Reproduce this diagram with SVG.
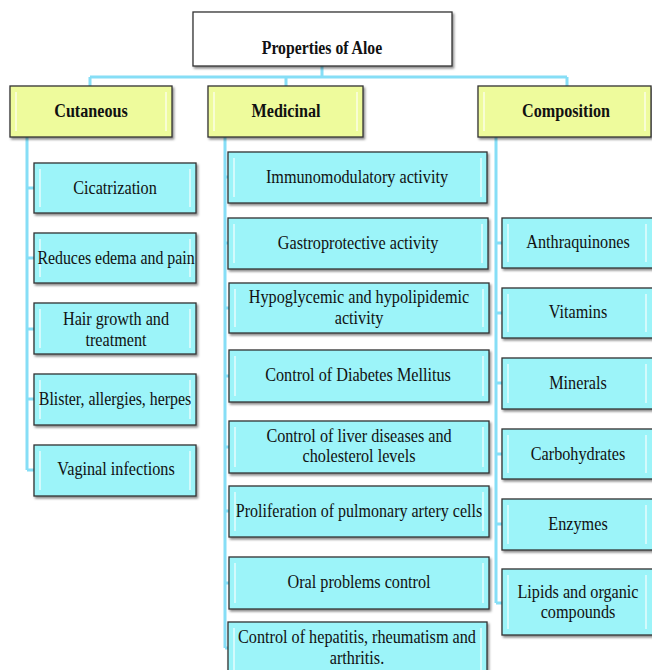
<svg xmlns="http://www.w3.org/2000/svg" width="652" height="670" viewBox="0 0 652 670">
<defs>
<filter id="sh" x="-5%" y="-10%" width="115%" height="130%">
<feDropShadow dx="1.5" dy="2" stdDeviation="1.2" flood-color="#000" flood-opacity="0.45"/>
</filter>
<style>
.root{fill:#fff;stroke:#333;stroke-width:1.3;filter:url(#sh)}
.cat{fill:#eefb9c;stroke:#333;stroke-width:1.3;filter:url(#sh)}
.box{fill:#9cf4f9;stroke:#333;stroke-width:1.3;filter:url(#sh)}
.hl{stroke:#fff;stroke-width:1.5;opacity:0.75;fill:none}
.conn{stroke:#86def6;stroke-width:3;fill:none}
.t{font-size:19px;fill:#111;text-anchor:middle}
.b{font-size:19px;font-weight:bold;fill:#111;text-anchor:middle}
</style>
</defs>
<rect width="652" height="670" fill="#fff"/>
<g id="connectors" class="conn">
<path d="M322,66 V77 M90,77 H567 M90,77 V86 M286,77 V86 M567,77 V86"/>
<path d="M27,137 V470 M27,188 H34 M27,258 H34 M27,329 H34 M27,399 H34 M27,470 H34"/>
<path d="M225,137 V648 M225,177 H228 M225,243 H228 M225,308 H229 M225,376 H229 M225,447 H229 M225,511 H229 M225,583 H229 M225,648 H228"/>
<path d="M496,137 V603 M496,243 H502 M496,313 H502 M496,383 H502 M496,454 H502 M496,524 H502 M496,603 H502"/>
</g>
<g font-family="'Liberation Serif', 'Times New Roman', serif">
<g id="root"><rect class="root" x="193" y="12" width="259" height="54"/><text class="b" transform="translate(322,54) scale(0.83,1)">Properties of Aloe</text></g>
<g id="cutaneous"><rect class="cat" x="10" y="86" width="162" height="51"/><path class="hl" d="M16,92 V131 M166,92 V131"/><text class="b" transform="translate(91,117) scale(0.85,1)">Cutaneous</text></g>
<g id="medicinal"><rect class="cat" x="208" y="86" width="155" height="51"/><path class="hl" d="M214,92 V131 M357,92 V131"/><text class="b" transform="translate(286,117) scale(0.85,1)">Medicinal</text></g>
<g id="composition"><rect class="cat" x="478" y="86" width="173" height="51"/><path class="hl" d="M484,92 V131 M645,92 V131"/><text class="b" transform="translate(566,117) scale(0.85,1)">Composition</text></g>

<g id="cicatrization"><rect class="box" x="34" y="163" width="162" height="50"/><path class="hl" d="M40,169 V207 M190,169 V207"/><text class="t" transform="translate(115,194) scale(0.853,1)">Cicatrization</text></g>
<g id="edema"><rect class="box" x="34" y="233" width="162" height="50"/><path class="hl" d="M40,239 V277 M190,239 V277"/><text class="t" transform="translate(116,264) scale(0.835,1)">Reduces edema and pain</text></g>
<g id="hair"><rect class="box" x="34" y="303" width="162" height="51"/><path class="hl" d="M40,309 V348 M190,309 V348"/><text class="t" transform="translate(116,325) scale(0.853,1)">Hair growth and</text><text class="t" transform="translate(116,346) scale(0.853,1)">treatment</text></g>
<g id="blister"><rect class="box" x="34" y="374" width="162" height="51"/><path class="hl" d="M40,380 V419 M190,380 V419"/><text class="t" transform="translate(115,405) scale(0.835,1)">Blister, allergies, herpes</text></g>
<g id="vaginal"><rect class="box" x="34" y="445" width="162" height="51"/><path class="hl" d="M40,451 V490 M190,451 V490"/><text class="t" transform="translate(116,475) scale(0.853,1)">Vaginal infections</text></g>

<g id="immuno"><rect class="box" x="228" y="152" width="259" height="51"/><path class="hl" d="M234,158 V197 M481,158 V197"/><text class="t" transform="translate(357,183) scale(0.853,1)">Immunomodulatory activity</text></g>
<g id="gastro"><rect class="box" x="228" y="218" width="260" height="51"/><path class="hl" d="M234,224 V263 M482,224 V263"/><text class="t" transform="translate(358,249) scale(0.853,1)">Gastroprotective activity</text></g>
<g id="hypo"><rect class="box" x="229" y="283" width="260" height="50"/><path class="hl" d="M235,289 V327 M483,289 V327"/><text class="t" transform="translate(359,303) scale(0.853,1)">Hypoglycemic and hypolipidemic</text><text class="t" transform="translate(359,324) scale(0.853,1)">activity</text></g>
<g id="diabetes"><rect class="box" x="229" y="350" width="260" height="52"/><path class="hl" d="M235,356 V396 M483,356 V396"/><text class="t" transform="translate(358,381) scale(0.853,1)">Control of Diabetes Mellitus</text></g>
<g id="liver"><rect class="box" x="229" y="421" width="260" height="52"/><path class="hl" d="M235,427 V467 M483,427 V467"/><text class="t" transform="translate(359,442) scale(0.853,1)">Control of liver diseases and</text><text class="t" transform="translate(359,462) scale(0.853,1)">cholesterol levels</text></g>
<g id="prolif"><rect class="box" x="229" y="486" width="260" height="51"/><path class="hl" d="M235,492 V531 M483,492 V531"/><text class="t" transform="translate(359,517) scale(0.843,1)">Proliferation of pulmonary artery cells</text></g>
<g id="oral"><rect class="box" x="229" y="557" width="260" height="52"/><path class="hl" d="M235,563 V603 M483,563 V603"/><text class="t" transform="translate(359,588) scale(0.853,1)">Oral problems control</text></g>
<g id="hepatitis"><rect class="box" x="228" y="622" width="259" height="54"/><path class="hl" d="M234,628 V670 M481,628 V670"/><text class="t" transform="translate(357,643) scale(0.853,1)">Control of hepatitis, rheumatism and</text><text class="t" transform="translate(357,664) scale(0.853,1)">arthritis.</text></g>

<g id="anthraquinones"><rect class="box" x="502" y="218" width="152" height="50"/><path class="hl" d="M508,224 V262 M646,224 V262"/><text class="t" transform="translate(578,248) scale(0.853,1)">Anthraquinones</text></g>
<g id="vitamins"><rect class="box" x="502" y="288" width="152" height="50"/><path class="hl" d="M508,294 V332 M646,294 V332"/><text class="t" transform="translate(578,318) scale(0.853,1)">Vitamins</text></g>
<g id="minerals"><rect class="box" x="502" y="358" width="152" height="51"/><path class="hl" d="M508,364 V403 M646,364 V403"/><text class="t" transform="translate(578,389) scale(0.853,1)">Minerals</text></g>
<g id="carbohydrates"><rect class="box" x="502" y="429" width="152" height="50"/><path class="hl" d="M508,435 V473 M646,435 V473"/><text class="t" transform="translate(578,460) scale(0.853,1)">Carbohydrates</text></g>
<g id="enzymes"><rect class="box" x="502" y="499" width="152" height="51"/><path class="hl" d="M508,505 V544 M646,505 V544"/><text class="t" transform="translate(578,530) scale(0.853,1)">Enzymes</text></g>
<g id="lipids"><rect class="box" x="502" y="569" width="152" height="66"/><path class="hl" d="M508,575 V629 M646,575 V629"/><text class="t" transform="translate(578,598) scale(0.853,1)">Lipids and organic</text><text class="t" transform="translate(578,618) scale(0.853,1)">compounds</text></g>
</g>
</svg>
